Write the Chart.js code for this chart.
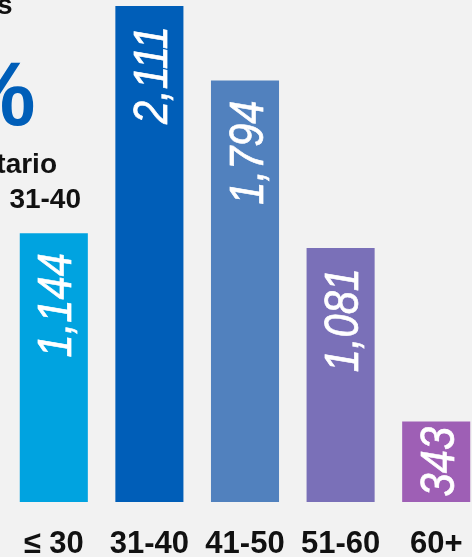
<!DOCTYPE html>
<html>
<head>
<meta charset="utf-8">
<script src="https://cdn.jsdelivr.net/npm/chart.js@4"></script>
<style>
  html, body { margin: 0; padding: 0; background: #f2f2f2; overflow: hidden; width: 472px; height: 557px; }
  #wrap { position: absolute; left: 0; top: 0; width: 484px; height: 579px; }
</style>
</head>
<body>
<div id="wrap"><canvas id="c" width="484" height="579"></canvas></div>
<script>
const categories = ['≤ 30', '31-40', '41-50', '51-60', '60+'];
const values = [1144, 2111, 1794, 1081, 343];
const valueLabels = ['1,144', '2,111', '1,794', '1,081', '343'];
const barColors = ['#00a3e0', '#005eb8', '#5181be', '#7a70b8', '#9e5fb5'];
const sideTexts = ['s', '%', 'tario', '31-40'];

const labelPlugin = {
  id: 'labels',
  afterDatasetsDraw(chart) {
    const ctx = chart.ctx;
    const meta = chart.getDatasetMeta(0);
    const fontSize = 49;
    const sx = 0.85;
    meta.data.forEach((bar, i) => {
      const txt = valueLabels[i];
      ctx.save();
      ctx.font = 'italic ' + fontSize + 'px "Liberation Sans", Arial, sans-serif';
      const w = ctx.measureText(txt).width * sx;
      const h = bar.base - bar.y;
      const gap = Math.min(20, (h - w) / 2);
      ctx.translate(bar.x, bar.y + gap);
      ctx.rotate(-Math.PI / 2);
      ctx.scale(sx, 1);
      ctx.fillStyle = '#ffffff';
      ctx.strokeStyle = '#ffffff';
      ctx.lineWidth = 0.7;
      ctx.textAlign = 'right';
      ctx.textBaseline = 'alphabetic';
      const v = fontSize * 0.716 / 2;
      ctx.fillText(txt, 0, v);
      ctx.strokeText(txt, 0, v);
      ctx.restore();
    });
  },
  afterDraw(chart) {
    const ctx = chart.ctx;
    ctx.save();
    ctx.textBaseline = 'alphabetic';
    ctx.textAlign = 'right';
    ctx.fillStyle = '#111111';
    ctx.font = 'bold 28px "Liberation Sans", Arial, sans-serif';
    ctx.fillText(sideTexts[0], 12.5, 14);
    ctx.fillText(sideTexts[2], 57, 173);
    ctx.fillText(sideTexts[3], 81, 208);
    ctx.fillStyle = '#005eb8';
    ctx.font = 'bold 90px "Liberation Sans", Arial, sans-serif';
    ctx.fillText(sideTexts[1], 35.5, 125);
    ctx.restore();
  }
};

new Chart(document.getElementById('c'), {
  type: 'bar',
  data: {
    labels: categories,
    datasets: [{
      data: values,
      backgroundColor: barColors,
      barPercentage: 0.712,
      categoryPercentage: 1,
      borderWidth: 0
    }]
  },
  options: {
    responsive: false,
    animation: false,
    layout: { padding: { left: 6, right: 0, top: 6, bottom: 0 } },
    plugins: { legend: { display: false }, tooltip: { enabled: false } },
    scales: {
      x: {
        grid: { display: false },
        border: { display: false },
        ticks: {
          color: '#111111',
          padding: 19,
          font: { family: '"Liberation Sans", Arial, sans-serif', weight: 'bold', size: 31, lineHeight: 1 }
        }
      },
      y: { display: false, min: 0, max: 2111 }
    }
  },
  plugins: [labelPlugin]
});
</script>
</body>
</html>
